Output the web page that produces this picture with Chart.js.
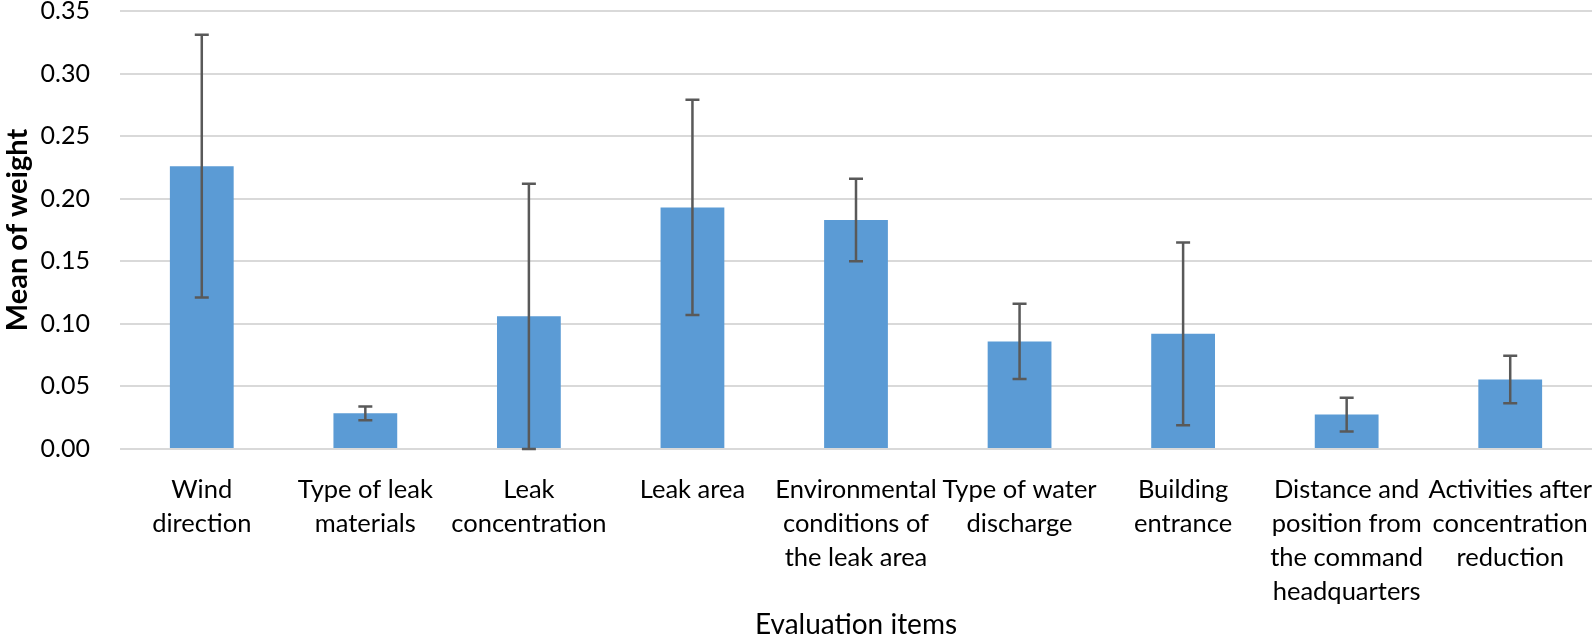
<!DOCTYPE html>
<html>
<head>
<meta charset="utf-8">
<script src="https://cdn.jsdelivr.net/npm/chart.js@4.4.1/dist/chart.umd.min.js"></script>
<style>
  html, body { margin: 0; padding: 0; background: #fff; }
  #wrap { width: 1594px; height: 639px; }
</style>
</head>
<body>
<div id="wrap"><canvas id="weightChart" width="1594" height="639"></canvas></div>
<script>
const categories = [
    ['Wind', 'direction'],
    ['Type of leak', 'materials'],
    ['Leak', 'concentration'],
    ['Leak area'],
    ['Environmental', 'conditions of', 'the leak area'],
    ['Type of water', 'discharge'],
    ['Building', 'entrance'],
    ['Distance and', 'position from', 'the command', 'headquarters'],
    ['Activities after', 'concentration', 'reduction']
];
const meanWeight = [0.226, 0.0285, 0.106, 0.193, 0.183, 0.086, 0.092, 0.0275, 0.0555];
const errorSize = [0.105, 0.0055, 0.106, 0.086, 0.033, 0.030, 0.073, 0.0135, 0.019];
const yTicks = [0, 0.05, 0.10, 0.15, 0.20, 0.25, 0.30, 0.35];

const FONT = "Lato, 'Open Sans', sans-serif";

// draws the whiskers on top of each bar
const errorBars = {
    id: 'errorBars',
    afterDatasetsDraw(chart) {
        const ctx = chart.ctx;
        const y = chart.scales.y;
        const meta = chart.getDatasetMeta(0);
        ctx.save();
        ctx.strokeStyle = '#595959';
        ctx.lineWidth = 2.5;
        meta.data.forEach((bar, i) => {
            const top = y.getPixelForValue(meanWeight[i] + errorSize[i]);
            const bottom = y.getPixelForValue(meanWeight[i] - errorSize[i]);
            const x = bar.x;
            ctx.beginPath();
            ctx.moveTo(x, top);
            ctx.lineTo(x, bottom);
            ctx.moveTo(x - 7, top);
            ctx.lineTo(x + 7, top);
            ctx.moveTo(x - 7, bottom);
            ctx.lineTo(x + 7, bottom);
            ctx.stroke();
        });
        ctx.restore();
    }
};

const ctx = document.getElementById('weightChart').getContext('2d');
const weightChart = new Chart(ctx, {
    type: 'bar',
    data: {
        labels: categories,
        datasets: [{
            label: 'Mean of weight',
            data: meanWeight,
            backgroundColor: '#5B9BD5',
            borderWidth: 0,
            categoryPercentage: 1,
            barPercentage: 0.39
        }]
    },
    options: {
        responsive: false,
        animation: false,
        layout: { padding: { top: 0, right: 2, left: 0, bottom: 0 } },
        plugins: {
            legend: { display: false },
            tooltip: { enabled: false }
        },
        scales: {
            x: {
                grid: { display: false, drawTicks: false },
                border: { display: false },
                ticks: {
                    autoSkip: false,
                    maxRotation: 0,
                    padding: 24,
                    color: '#000',
                    font: { family: FONT, size: 25.5, lineHeight: 1.33 }
                },
                title: {
                    display: true,
                    text: 'Evaluation items',
                    color: '#000',
                    font: { family: FONT, size: 28, lineHeight: 1 },
                    padding: { top: 0, bottom: 0 }
                },
                afterFit(scale) {
                    scale.height = 190;
                    scale.paddingLeft = 0;
                    scale.paddingRight = 0;
                }
            },
            y: {
                min: 0,
                max: 0.35,
                afterBuildTicks(scale) {
                    scale.ticks = yTicks.map(v => ({ value: v }));
                },
                grid: { color: '#D9D9D9', lineWidth: 2, drawTicks: false },
                border: { display: false },
                ticks: {
                    padding: 30,
                    color: '#000',
                    font: { family: FONT, size: 25 },
                    callback: v => v.toFixed(2)
                },
                title: {
                    display: true,
                    text: 'Mean of weight',
                    color: '#000',
                    font: { family: FONT, size: 29, weight: 'bold' },
                    padding: { top: 0, bottom: 4 }
                },
                afterFit(scale) {
                    scale.width = 120;
                    scale.paddingTop = 11;
                    scale.paddingBottom = 0;
                }
            }
        }
    },
    plugins: [errorBars]
});
</script>
</body>
</html>
